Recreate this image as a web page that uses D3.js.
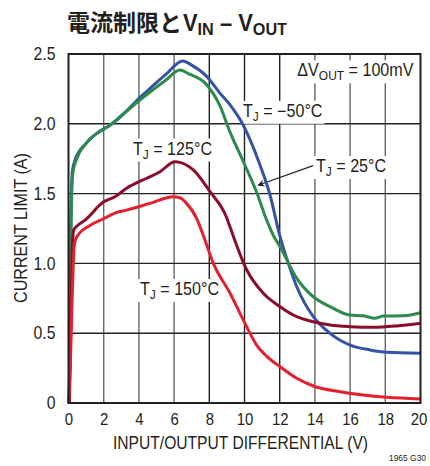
<!DOCTYPE html>
<html>
<head>
<meta charset="utf-8">
<script src="https://cdn.jsdelivr.net/npm/d3@7"></script>
<style>
  html, body { margin: 0; padding: 0; background: #fff; }
  svg { display: block; }
</style>
</head>
<body>
<svg id="chart" width="430" height="466"></svg>
<script>
// Current limit vs input/output differential, four junction temperatures
const xTickValues = [0, 2, 4, 6, 8, 10, 12, 14, 16, 18, 20];
const xTickLabels = ["0", "2", "4", "6", "8", "10", "12", "14", "16", "18", "20"];
const yTickValues = [0, 0.5, 1.0, 1.5, 2.0, 2.5];
const yTickLabels = ["0", "0.5", "1.0", "1.5", "2.0", "2.5"];

// TJ = -50°C
const vMinus50 = [0.04, 0.08, 0.13, 0.22, 0.4, 1.0, 1.88, 2.36, 4.25, 5.5, 6.49, 7.0, 7.85, 8.6, 9.18, 9.93, 10.88, 11.45, 12.0, 12.49, 12.97, 13.91, 14.86, 16.0, 17.13, 18.08, 20];
const iMinus50 = [0, 0.45, 1.25, 1.66, 1.75, 1.86, 1.955, 1.99, 2.21, 2.35, 2.45, 2.42, 2.34, 2.22, 2.135, 1.99, 1.705, 1.49, 1.20, 1.0, 0.833, 0.618, 0.499, 0.415, 0.38, 0.363, 0.356];
// TJ = 25°C
const v25 = [0.05, 0.1, 0.15, 0.24, 0.5, 1.0, 2.36, 4.25, 5.5, 6.33, 6.8, 7.85, 8.6, 9.18, 9.93, 10.69, 11.26, 11.64, 12.02, 12.97, 13.91, 14.86, 16.0, 16.75, 17.41, 17.9, 19.03, 20];
const i25 = [0, 0.5, 1.3, 1.64, 1.76, 1.86, 1.99, 2.19, 2.31, 2.385, 2.36, 2.28, 2.13, 1.94, 1.73, 1.51, 1.31, 1.20, 1.12, 0.893, 0.761, 0.69, 0.63, 0.625, 0.607, 0.623, 0.625, 0.647];
// TJ = 125°C
const v125 = [0.05, 0.14, 0.22, 0.3, 0.5, 0.94, 1.98, 2.64, 3.3, 4.44, 5.2, 6.05, 6.33, 7.09, 8.04, 9.0, 9.18, 10.13, 11.07, 12.02, 12.97, 13.91, 14.86, 16.0, 17.32, 18.65, 20];
const i125 = [0, 0.6, 1.12, 1.24, 1.27, 1.31, 1.44, 1.478, 1.538, 1.61, 1.657, 1.729, 1.724, 1.67, 1.514, 1.323, 1.26, 0.953, 0.786, 0.69, 0.618, 0.582, 0.559, 0.547, 0.542, 0.552, 0.571];
// TJ = 150°C
const v150 = [0.0, 0.12, 0.22, 0.32, 0.4, 0.65, 1.1, 1.98, 2.64, 3.3, 4.63, 5.95, 6.33, 6.71, 7.28, 7.66, 8.23, 9.18, 9.93, 10.69, 11.3, 12.02, 12.97, 13.91, 15.43, 16.75, 18.08, 20];
const i150 = [0, 0.35, 0.8, 1.12, 1.17, 1.22, 1.263, 1.32, 1.36, 1.382, 1.43, 1.478, 1.47, 1.43, 1.323, 1.20, 1.0, 0.786, 0.595, 0.415, 0.33, 0.26, 0.177, 0.122, 0.081, 0.057, 0.041, 0.029];

const seriesNames = ["-50", "25", "125", "150"];
const seriesColors = ["#3553a6", "#2c8a4c", "#8a0d2b", "#e5202e"];

const series = [
  { name: seriesNames[0], color: seriesColors[0], v: vMinus50, i: iMinus50 },
  { name: seriesNames[1], color: seriesColors[1], v: v25, i: i25 },
  { name: seriesNames[2], color: seriesColors[2], v: v125, i: i125 },
  { name: seriesNames[3], color: seriesColors[3], v: v150, i: i150 }
];

const svg = d3.select("#chart");
const x = d3.scaleLinear().domain([0, 20]).range([68.5, 420.5]);
const y = d3.scaleLinear().domain([0, 2.5]).range([403, 54]);
const FONT = '"Liberation Sans", Arial, sans-serif';
const INK = "#231f20";

// narrow the sans face horizontally, keeping its height
function condense(sel, factor) {
  sel.each(function () {
    const w = this.getComputedTextLength();
    d3.select(this).attr("textLength", w * factor).attr("lengthAdjust", "spacingAndGlyphs");
  });
}

// title
svg.append("text")
  .attr("x", 67).attr("y", 31)
  .attr("font-family", '"Noto Sans CJK JP", sans-serif')
  .attr("font-weight", "bold").attr("font-size", 23).attr("fill", INK)
  .text("電流制限と");
const titleLatin = svg.append("text")
  .attr("x", 183).attr("y", 31)
  .attr("font-family", FONT).attr("font-weight", "bold").attr("font-size", 23).attr("fill", INK);
titleLatin.append("tspan").text("V");
titleLatin.append("tspan").attr("font-size", 17).attr("dy", 4).text("IN");
titleLatin.append("tspan").attr("dy", -4).text(" – V");
titleLatin.append("tspan").attr("font-size", 17).attr("dy", 4).text("OUT");
titleLatin.attr("textLength", 104).attr("lengthAdjust", "spacingAndGlyphs");

// grid
const grid = svg.append("g");
grid.selectAll("line.v").data(xTickValues.slice(1, -1)).join("line")
  .attr("x1", d => x(d)).attr("x2", d => x(d))
  .attr("y1", y(0)).attr("y2", y(2.5))
  .attr("stroke", d => (d >= 8 && d <= 12) ? "#222" : "#666").attr("stroke-width", 1.4);
grid.selectAll("line.h").data(yTickValues.slice(1, -1)).join("line")
  .attr("x1", x(0)).attr("x2", x(20))
  .attr("y1", d => y(d)).attr("y2", d => y(d))
  .attr("stroke", "#222").attr("stroke-width", 1.4);

// axes
const xAxis = d3.axisBottom(x).tickValues(xTickValues)
  .tickFormat((d, k) => xTickLabels[k]).tickSize(0).tickPadding(10);
svg.append("g").attr("transform", `translate(0,${y(0)})`).call(xAxis)
  .call(g => g.select(".domain").remove())
  .selectAll("text").attr("font-family", FONT).attr("font-size", 17).attr("fill", INK)
  .attr("dx", d => d === 20 ? -2 : 0)
  .call(condense, 0.88);

const yAxis = d3.axisLeft(y).tickValues(yTickValues)
  .tickFormat((d, k) => yTickLabels[k]).tickSize(0).tickPadding(13);
svg.append("g").attr("transform", `translate(${x(0)},0)`).call(yAxis)
  .call(g => g.select(".domain").remove())
  .selectAll("text").attr("font-family", FONT).attr("font-size", 17.5).attr("fill", INK)
  .call(condense, 0.9);

// annotations with white backing boxes
const notes = svg.append("g");
function note(vx, iy, parts, anchor) {
  const t = notes.append("text")
    .attr("x", x(vx)).attr("y", y(iy))
    .attr("text-anchor", anchor || "start")
    .attr("font-family", FONT).attr("font-size", 17.5).attr("fill", INK);
  parts.forEach(p => {
    const s = t.append("tspan").text(p.t);
    if (p.sub) s.attr("font-size", 13).attr("dy", 4);
    if (p.up) s.attr("dy", -4);
  });
  t.call(condense, 0.92);
  const b = t.node().getBBox();
  notes.insert("rect", () => t.node())
    .attr("x", b.x - 2).attr("y", b.y).attr("width", b.width + 4).attr("height", b.height)
    .attr("fill", "#fff");
}

note(19.6, 2.34, [{ t: "ΔV" }, { t: "OUT", sub: true }, { t: " = 100mV", up: true }], "end");
note(9.91, 2.05, [{ t: "T" }, { t: "J", sub: true }, { t: " = −50°C", up: true }]);
note(14.06, 1.655, [{ t: "T" }, { t: "J", sub: true }, { t: " = 25°C", up: true }]);
note(3.66, 1.78, [{ t: "T" }, { t: "J", sub: true }, { t: " = 125°C", up: true }]);
note(4.06, 0.774, [{ t: "T" }, { t: "J", sub: true }, { t: " = 150°C", up: true }]);

// arrow to the 25°C curve
svg.append("defs").append("marker")
  .attr("id", "arrowhead").attr("viewBox", "0 0 10 10")
  .attr("refX", 9).attr("refY", 5).attr("markerWidth", 10).attr("markerHeight", 7)
  .attr("markerUnits", "userSpaceOnUse").attr("orient", "auto")
  .append("path").attr("d", "M0,0 L10,5 L0,10 L3,5 Z").attr("fill", INK);
svg.append("line")
  .attr("x1", x(13.9)).attr("y1", y(1.70))
  .attr("x2", x(10.77)).attr("y2", y(1.56))
  .attr("stroke", INK).attr("stroke-width", 1.2)
  .attr("marker-end", "url(#arrowhead)");

// curves
const line = d3.line().x(d => x(d[0])).y(d => y(d[1])).curve(d3.curveMonotoneX);
svg.append("g").selectAll("path").data(series).join("path")
  .attr("d", s => line(s.v.map((v, k) => [v, s.i[k]])))
  .attr("fill", "none").attr("stroke", s => s.color)
  .attr("stroke-width", 3).attr("stroke-linejoin", "round");

// frame
svg.append("rect")
  .attr("x", x(0)).attr("y", y(2.5))
  .attr("width", x(20) - x(0)).attr("height", y(0) - y(2.5))
  .attr("fill", "none").attr("stroke", INK).attr("stroke-width", 2);

// axis titles
svg.append("text")
  .attr("x", 240.5).attr("y", 449)
  .attr("text-anchor", "middle")
  .attr("font-family", FONT).attr("font-size", 17.5).attr("fill", INK)
  .attr("textLength", 255).attr("lengthAdjust", "spacingAndGlyphs")
  .text("INPUT/OUTPUT DIFFERENTIAL (V)");
svg.append("text")
  .attr("transform", `translate(27,228) rotate(-90)`)
  .attr("text-anchor", "middle")
  .attr("font-family", FONT).attr("font-size", 17.5).attr("fill", INK)
  .attr("textLength", 150).attr("lengthAdjust", "spacingAndGlyphs")
  .text("CURRENT LIMIT (A)");

svg.append("text")
  .attr("x", 426).attr("y", 461).attr("text-anchor", "end")
  .attr("font-family", FONT).attr("font-size", 9.5).attr("fill", INK)
  .attr("textLength", 37).attr("lengthAdjust", "spacingAndGlyphs")
  .text("1965 G30");
</script>
</body>
</html>
